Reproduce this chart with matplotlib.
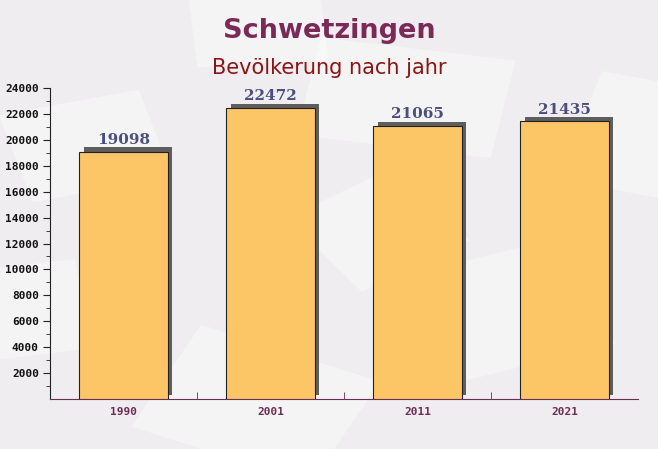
import matplotlib.pyplot as plt
import matplotlib.patheffects as pe
from matplotlib.patches import Rectangle
import numpy as np

# Data
years = ["1990", "2001", "2011", "2021"]
population = [19098, 22472, 21065, 21435]
yticks = list(range(2000, 24001, 2000))

fig = plt.figure(figsize=(6.58, 4.49), dpi=100)
fig.patch.set_facecolor("#efedf0")

# faint envelope-like decoration in the background
bg = fig.add_axes([0, 0, 1, 1], zorder=-5)
bg.set_axis_off()
bg.set_xlim(0, 1)
bg.set_ylim(0, 1)
deco = [(0.05, 0.55, 0.22, 0.2, 15), (0.45, 0.7, 0.3, 0.22, -10), (0.7, 0.15, 0.25, 0.25, 20),
        (0.2, 0.05, 0.3, 0.25, -25), (0.55, 0.35, 0.2, 0.2, 35), (0.85, 0.6, 0.2, 0.25, -15),
        (0.0, 0.2, 0.15, 0.2, 10), (0.3, 0.85, 0.2, 0.15, 5)]
for dx, dy, w, h, ang in deco:
    bg.add_patch(Rectangle((dx, dy), w, h, angle=ang, facecolor="white",
                           alpha=0.4, edgecolor="none"))

ax = fig.add_axes([50 / 658, 50 / 449, 588 / 658, 311 / 449])
ax.set_facecolor("none")

x = np.arange(len(years))
bars = ax.bar(x, population, width=0.6, color="#fcc667",
              edgecolor="#222222", linewidth=0.8, zorder=3)
for b in bars:
    b.set_path_effects([pe.SimplePatchShadow(offset=(3, 3), shadow_rgbFace="#5e5e5e", alpha=1.0),
                        pe.Normal()])

for xi, v in zip(x, population):
    ax.text(xi, v + 350, str(v), ha="center", va="bottom", fontsize=11,
            fontweight="bold", family="DejaVu Serif", color="#4b4f7e", zorder=5)

ax.set_xlim(-0.5, 3.5)
ax.set_ylim(0, 24000)
ax.set_yticks(yticks)
ax.set_yticks(np.arange(1000, 24000, 2000), minor=True)
ax.set_yticklabels([str(t) for t in yticks], family="DejaVu Sans Mono",
                   fontweight="bold", fontsize=8, color="#111111")
ax.set_xticks(x)
ax.set_xticklabels(years, family="DejaVu Sans Mono", fontweight="bold",
                   fontsize=8, color="#6b2d55")
ax.set_xticks([0.5, 1.5, 2.5], minor=True)

ax.tick_params(axis="y", which="major", length=5, color="#222222", pad=3)
ax.tick_params(axis="y", which="minor", length=3, color="#222222")
ax.tick_params(axis="x", which="major", length=0, pad=6)
ax.tick_params(axis="x", which="minor", direction="in", length=5, color="#6b2d55")

for s in ["top", "right"]:
    ax.spines[s].set_visible(False)
ax.spines["left"].set_color("#222222")
ax.spines["bottom"].set_color("#6b2d55")

fig.text(0.5, 1 - 31 / 449, "Schwetzingen", ha="center", va="center",
         fontsize=19.5, fontweight="bold", color="#7b2a58")
fig.text(0.5, 1 - 68 / 449, "Bevölkerung nach jahr", ha="center", va="center",
         fontsize=15, color="#8b1515")

fig.savefig("out.png", dpi=100, facecolor=fig.get_facecolor())
